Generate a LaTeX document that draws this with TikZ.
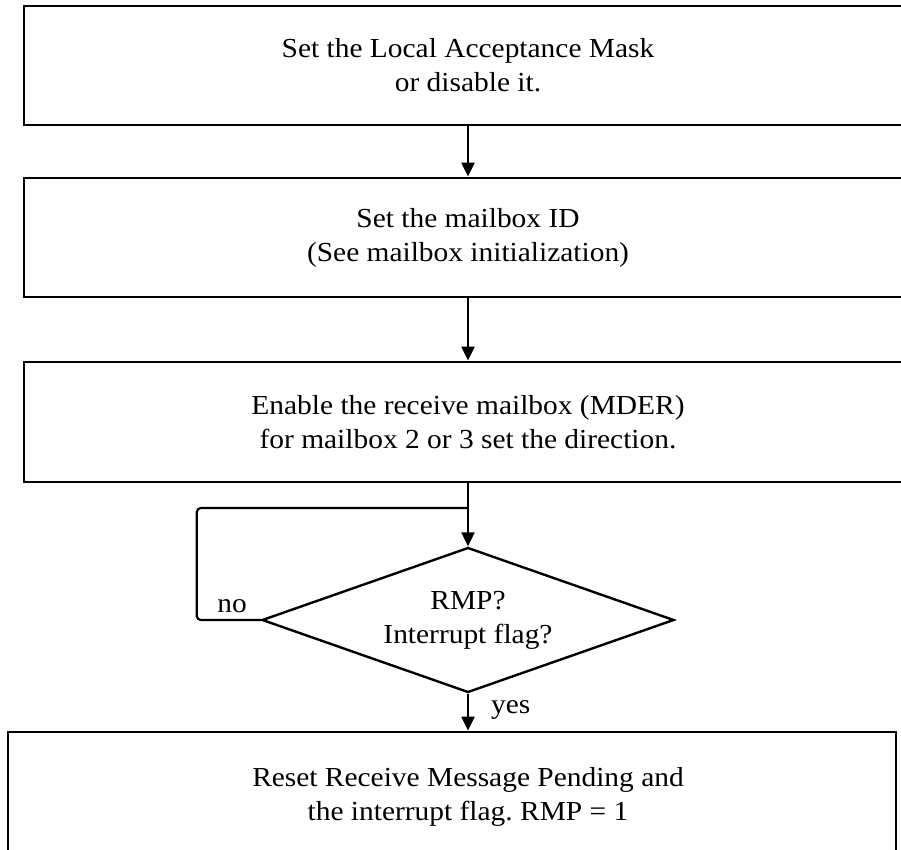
\documentclass[tikz,border=0pt]{standalone}
\usepackage{fontspec}
\setmainfont{Liberation Serif}[FakeStretch=1.07]
\usepackage{tikz}
\usetikzlibrary{arrows.meta,shapes.geometric}
\frenchspacing

\begin{document}
\begin{tikzpicture}[
    x=1pt, y=-1pt,
    font=\fontsize{27.5}{34}\selectfont,
    stepbox/.style={
        draw,
        line width=2.8pt,
        minimum width=888pt,
        minimum height=119pt,
        align=center
    },
    decision/.style={
        draw,
        diamond,
        line width=2.4pt,
        inner sep=0pt,
        shape aspect=2.84,
        minimum width=412pt,
        minimum height=145pt,
        align=center
    },
    line/.style={line width=2.2pt},
    edge/.style={line, -{Triangle[length=14pt,width=13pt]}},
    answer/.style={inner sep=6pt}
]

\useasboundingbox (0,0) rectangle (901,850);

\node[stepbox] (mask) at (468,65.5) {Set the Local Acceptance Mask\\or disable it.};
\node[stepbox] (mbid) at (468,237.5) {Set the mailbox ID\\(See mailbox initialization)};
\node[stepbox, minimum height=120pt] (enable) at (468,422) {Enable the receive mailbox (MDER)\\for mailbox 2 or 3 set the direction.};
\node[decision] (check) at (468,620) {RMP?\\Interrupt flag?};
\node[stepbox, minimum height=130pt] (reset) at (452,797) {};
\node[align=center] (resettext) at (468,797) {Reset Receive Message Pending and\\the interrupt flag. RMP = 1};

\coordinate (join) at (468,508);

\draw[edge] (mask) -- (mbid);
\draw[edge] (mbid) -- (enable);
\draw[edge] (enable) -- (check);

% loop back while no flag
\draw[line, rounded corners=4pt] (check.west) -- node[answer, above, pos=0.45] {no} ++(-64,0) |- (join);

\draw[edge] (check.south) -- node[answer, right, pos=0.45, xshift=16pt] {yes} (check.south |- reset.north);

\end{tikzpicture}
\end{document}
